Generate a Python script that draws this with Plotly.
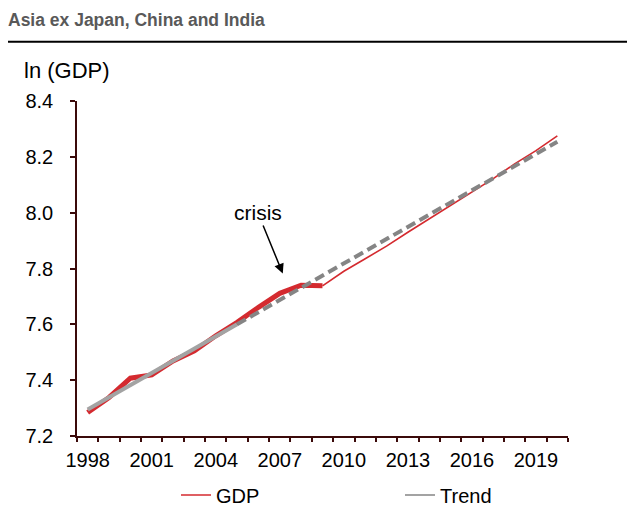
import plotly.graph_objects as go

years = list(range(1998, 2021))
gdp = [7.284, 7.338, 7.407, 7.419, 7.469, 7.505, 7.559, 7.607, 7.661, 7.711, 7.740, 7.738,
       7.790, 7.835, 7.880, 7.930, 7.978, 8.025, 8.072, 8.122, 8.175, 8.222, 8.275]
trend = [7.295, 7.339, 7.382, 7.426, 7.469, 7.513, 7.557, 7.600, 7.644, 7.687, 7.731, 7.775,
         7.818, 7.862, 7.905, 7.949, 7.993, 8.036, 8.080, 8.123, 8.167, 8.211, 8.254]
hist_end = 2009      # last actual GDP year (thick line)
trend_fit_end = 2005  # end of solid trend section
x_tick_years = [1998, 2001, 2004, 2007, 2010, 2013, 2016, 2019]
y_ticks = [7.2, 7.4, 7.6, 7.8, 8.0, 8.2, 8.4]

FONT = "Liberation Sans, Arial, sans-serif"
RED = "#d42a2f"

# page body has an 8px default margin: figure is placed at (8, 8)
OFF = 8
W, H = 635 - OFF, 506 - OFF
PL, PR, PT, PB = 77 - OFF, 568 - OFF, 101 - OFF, 436 - OFF   # plot area in figure px
PW, PH = PR - PL, PB - PT


def px(xr):  # reference page x -> paper x
    return (xr - OFF - PL) / PW


def py(yr):  # reference page y -> paper y
    return (PB - (yr - OFF)) / PH


ih = years.index(hist_end)
it = years.index(trend_fit_end)

fig = go.Figure()
fig.add_trace(go.Scatter(x=years[:ih + 1], y=gdp[:ih + 1], mode="lines",
                         line=dict(color=RED, width=5), showlegend=False, hoverinfo="skip"))
fig.add_trace(go.Scatter(x=years[ih:], y=gdp[ih:], mode="lines",
                         line=dict(color=RED, width=1.6), showlegend=False))
fig.add_trace(go.Scatter(x=years[:it + 1], y=trend[:it + 1], mode="lines",
                         line=dict(color="#a3a3a3", width=4), showlegend=False))
fig.add_trace(go.Scatter(x=years[it:], y=trend[it:], mode="lines",
                         line=dict(color="#858585", width=4, dash="10px,5px"), showlegend=False))
# legend entries
fig.add_trace(go.Scatter(x=[None], y=[None], mode="lines", name="GDP",
                         line=dict(color=RED, width=1.6)))
fig.add_trace(go.Scatter(x=[None], y=[None], mode="lines", name="Trend",
                         line=dict(color="#a3a3a3", width=2)))

axis_col = "#3b0a0a"
fig.update_layout(
    width=W, height=H,
    margin=dict(l=PL, r=W - PR, t=PT, b=H - PB, autoexpand=False),
    paper_bgcolor="white", plot_bgcolor="white",
    font=dict(family=FONT, size=20, color="black"),
    title=dict(text="<b>Asia ex Japan, China and India</b>", xref="container", yref="container",
               x=0, xanchor="left", y=1 - (20 - OFF) / H, yanchor="middle",
               font=dict(family=FONT, size=17.5, color="#595959")),
    xaxis=dict(range=[1997.5, 2020.5], tickmode="array", tickvals=x_tick_years,
               ticktext=[str(v) for v in x_tick_years], ticks="", showgrid=False,
               showline=True, linecolor=axis_col, linewidth=1.5, zeroline=False,
               tickfont=dict(size=20), ticklabelstandoff=5,
               minor=dict(tickmode="linear", tick0=1997.5, dtick=1, ticks="outside",
                          ticklen=4, tickcolor=axis_col, tickwidth=1.5, showgrid=False)),
    yaxis=dict(range=[7.2, 8.4], tickmode="array", tickvals=y_ticks, tickformat=".1f",
               ticks="outside", ticklen=5, tickcolor=axis_col, tickwidth=1.5,
               showgrid=False, showline=True, linecolor=axis_col, linewidth=1.5,
               zeroline=False, tickfont=dict(size=20), ticklabelstandoff=13),
    legend=dict(orientation="h", x=px(176), xanchor="left",
                y=py(495), yanchor="middle", entrywidth=179, entrywidthmode="pixels",
                font=dict(size=20), bgcolor="rgba(0,0,0,0)"),
    showlegend=True,
)

fig.add_shape(type="line", xref="paper", yref="paper",
              x0=px(5), x1=px(640), y0=py(41.7), y1=py(41.7),
              line=dict(color="black", width=2))
fig.add_annotation(text="ln (GDP)", xref="paper", yref="paper",
                   x=px(22), y=py(70), xanchor="left", yanchor="middle",
                   showarrow=False, font=dict(size=22))
fig.add_annotation(text="crisis", x=2007.14, y=7.782, ax=-25, ay=-61,
                   axref="pixel", ayref="pixel", showarrow=True, arrowhead=2, arrowsize=1.3,
                   arrowwidth=1.5, arrowcolor="black", standoff=0,
                   font=dict(size=21), yanchor="middle")

fig.write_html("out.html")
